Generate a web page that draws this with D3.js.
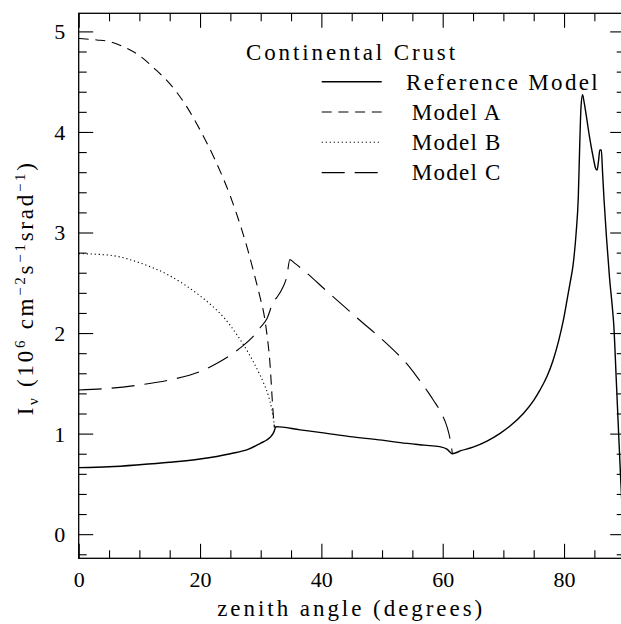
<!DOCTYPE html>
<html>
<head>
<meta charset="utf-8">
<script src="https://cdn.jsdelivr.net/npm/d3@7"></script>
<style>
  html, body { margin: 0; padding: 0; background: #fff; }
  svg { display: block; }
  text { font-family: "Liberation Serif", "DejaVu Serif", serif; fill: #000; }
</style>
</head>
<body>
<svg id="chart" width="621" height="624"></svg>
<script>
// ---------------- data ----------------
const xTickValues = [0, 20, 40, 60, 80];
const yTickValues = [0, 1, 2, 3, 4, 5];
const xTitle = "zenith angle (degrees)";
const legendTitle = "Continental Crust";
const seriesNames = ["Reference Model", "Model A", "Model B", "Model C"];

const refAngle = [0, 5, 10, 15, 20, 25, 28, 30, 31, 31.8, 32.2, 32.5, 36.5, 40, 44.7, 50, 53, 57, 59.5, 60.7,
  61.6, 63, 65, 67.3, 69.4, 71, 73.3, 75, 76, 77.2, 78.2, 79.1, 79.9, 80.5, 81, 81.5, 82, 82.35, 82.6, 82.8,
  83.05, 83.3, 83.7, 84.2, 84.8, 85.2, 85.45, 85.7, 85.9, 86.15, 86.35, 86.6, 87, 87.5, 88, 88.2, 88.6, 89, 89.3, 89.7];
const refValue = [0.662, 0.67, 0.69, 0.715, 0.748, 0.80, 0.845, 0.905, 0.937, 0.98, 1.02, 1.07, 1.037, 1.01, 0.97, 0.935, 0.91, 0.885, 0.87, 0.845,
  0.80, 0.83, 0.865, 0.925, 1.00, 1.07, 1.20, 1.33, 1.43, 1.57, 1.73, 1.92, 2.13, 2.33, 2.5, 2.68, 3.0, 3.35, 3.9, 4.25,
  4.37, 4.3, 4.15, 3.95, 3.75, 3.64, 3.62, 3.72, 3.82, 3.82, 3.6, 3.32, 2.95, 2.55, 2.23, 2.08, 1.55, 1.0, 0.6, 0.1];

const aAngle = [0, 3, 5, 8, 10, 12.5, 15, 17.5, 20, 22.5, 25, 26, 28, 29, 30, 30.5, 31, 31.5, 32, 32.25];
const aValue = [4.93, 4.915, 4.9, 4.83, 4.76, 4.63, 4.48, 4.28, 4.02, 3.72, 3.36, 3.19, 2.80, 2.57, 2.33, 2.2, 2.0, 1.72, 1.25, 1.06];

const bAngle = [0, 5, 10, 15, 20, 22, 24, 26, 28, 29.5, 30.5, 31.3, 31.8, 32.1, 32.3];
const bValue = [2.79, 2.775, 2.70, 2.57, 2.37, 2.27, 2.15, 1.99, 1.80, 1.63, 1.50, 1.37, 1.25, 1.14, 1.07];

const cAngle = [0, 5, 10, 15, 20, 22.5, 25, 27, 28.8, 30, 31, 32.1, 32.6, 33.7, 34.3, 34.8, 35.7, 41.4, 46, 51.3,
  54, 55.7, 57.5, 58.5, 59.8, 60.7, 61.3, 61.6];
const cValue = [1.434, 1.45, 1.484, 1.534, 1.616, 1.69, 1.78, 1.87, 1.97, 2.06, 2.14, 2.31, 2.35, 2.46, 2.56, 2.73, 2.69, 2.39, 2.145, 1.865,
  1.70, 1.57, 1.42, 1.33, 1.20, 1.07, 0.92, 0.80];

// ---------------- layout ----------------
const svg = d3.select("#chart");
const L = 78.7, R = 624.7, T = 13.3, B = 558.3;
const x = d3.scaleLinear().domain([0, 90]).range([L, R]);
const y = d3.scaleLinear().domain([-0.24, 5.18]).range([B, T]);
const FS = 23, FT = 22;

function fitWidth(sel, target) {
  const node = sel.node();
  const n = node.textContent.length;
  let ls = 0;
  for (let k = 0; k < 3; k++) {
    sel.attr("letter-spacing", ls.toFixed(3));
    const w = node.getBBox().width;
    ls += (target - w) / n;
  }
  sel.attr("letter-spacing", ls.toFixed(3));
}

svg.append("defs").append("clipPath").attr("id", "clip")
  .append("rect").attr("x", L).attr("y", T).attr("width", R - L).attr("height", B - T);

const xMinor = d3.range(0, 91, 5).filter(v => v % 20 !== 0);
const yMinor = d3.range(-0.2, 5.19, 0.2).map(v => +v.toFixed(1)).filter(v => Math.abs(v - Math.round(v)) > 1e-6);

const MAJ = 14.5, MIN = 8;
function styleAxis(g) {
  g.select(".domain").remove();
  g.selectAll(".tick line").attr("stroke", "#000").attr("stroke-width", 1.1);
}
// bottom
svg.append("g").attr("transform", `translate(0,${B})`)
  .call(d3.axisBottom(x).tickValues(xTickValues).tickSize(-MAJ).tickFormat(d3.format("d")))
  .call(styleAxis)
  .call(g => g.selectAll("text").attr("y", 28.7).attr("dy", null)
      .attr("font-size", FT).attr("font-family", null).attr("fill", "#000"));
svg.append("g").attr("transform", `translate(0,${B})`)
  .call(d3.axisBottom(x).tickValues(xMinor).tickSize(-MIN).tickFormat(""))
  .call(styleAxis);
// top
svg.append("g").attr("transform", `translate(0,${T})`)
  .call(d3.axisTop(x).tickValues(xTickValues).tickSize(-MAJ).tickFormat(""))
  .call(styleAxis);
svg.append("g").attr("transform", `translate(0,${T})`)
  .call(d3.axisTop(x).tickValues(xMinor).tickSize(-MIN).tickFormat(""))
  .call(styleAxis);
// left
svg.append("g").attr("transform", `translate(${L},0)`)
  .call(d3.axisLeft(y).tickValues(yTickValues).tickSize(-MAJ).tickPadding(13.5).tickFormat(d3.format("d")))
  .call(styleAxis)
  .call(g => g.selectAll("text").attr("dy", "0.34em")
      .attr("font-size", FT).attr("font-family", null).attr("fill", "#000"));
svg.append("g").attr("transform", `translate(${L},0)`)
  .call(d3.axisLeft(y).tickValues(yMinor).tickSize(-MIN).tickFormat(""))
  .call(styleAxis);
// right
svg.append("g").attr("transform", `translate(${R},0)`)
  .call(d3.axisRight(y).tickValues(yTickValues).tickSize(-MAJ).tickFormat(""))
  .call(styleAxis);
svg.append("g").attr("transform", `translate(${R},0)`)
  .call(d3.axisRight(y).tickValues(yMinor).tickSize(-MIN).tickFormat(""))
  .call(styleAxis);

// frame
svg.append("rect").attr("x", L).attr("y", T).attr("width", R - L).attr("height", B - T)
  .attr("fill", "none").attr("stroke", "#000").attr("stroke-width", 1.3);

// curves
const series = [
  { name: seriesNames[0], ang: refAngle, val: refValue, dash: null, w: 1.4 },
  { name: seriesNames[1], ang: aAngle, val: aValue, dash: "10,6.7", w: 1.1 },
  { name: seriesNames[2], ang: bAngle, val: bValue, dash: "1.2,2.8", w: 1.1 },
  { name: seriesNames[3], ang: cAngle, val: cValue, dash: "23,10", w: 1.1 }
];
const line = d3.line().x(d => x(d[0])).y(d => y(d[1])).curve(d3.curveMonotoneX);
const plot = svg.append("g").attr("clip-path", "url(#clip)");
series.slice().reverse().forEach(s => {
  plot.append("path")
    .datum(s.ang.map((a, i) => [a, s.val[i]]))
    .attr("d", line)
    .attr("fill", "none").attr("stroke", "#000")
    .attr("stroke-width", s.w)
    .attr("stroke-dasharray", s.dash);
});

// legend
const lg = svg.append("g");
const t0 = lg.append("text").attr("x", 246).attr("y", 60).attr("font-size", FS).text(legendTitle);
fitWidth(t0, 212);
const legendLineEnds = [381.7, 381.7, 380, 378];
const legendTextX = [406, 411.7, 411.7, 411.7];
const legendTextW = [194, 90, 90, 90];
series.forEach((s, i) => {
  const ly = 81.7 + i * 30.3;
  lg.append("line").attr("x1", 321.7).attr("x2", legendLineEnds[i]).attr("y1", ly).attr("y2", ly)
    .attr("stroke", "#000").attr("stroke-width", s.w).attr("stroke-dasharray", s.dash);
  const t = lg.append("text").attr("x", legendTextX[i]).attr("y", 90 + i * 30)
    .attr("font-size", FS).text(s.name);
  fitWidth(t, legendTextW[i]);
});

// x title
const xt = svg.append("text").attr("x", (L + R) / 2 - 0.5).attr("y", 616)
  .attr("text-anchor", "middle").attr("font-size", FS).text(xTitle);
fitWidth(xt, 268);

// y title
const yt = svg.append("text").attr("transform", `translate(33,${(T + B) / 2 + 2}) rotate(-90)`)
  .attr("text-anchor", "middle").attr("font-size", FS);
yt.append("tspan").text("I");
yt.append("tspan").attr("font-size", 15).attr("dy", 5).text("ν");
yt.append("tspan").attr("dy", -5).text(" (10");
yt.append("tspan").attr("font-size", 15).attr("dy", -8).text("6");
yt.append("tspan").attr("dy", 8).text(" cm");
yt.append("tspan").attr("font-size", 15).attr("dy", -8).text("−2");
yt.append("tspan").attr("dy", 8).text("s");
yt.append("tspan").attr("font-size", 15).attr("dy", -8).text("−1");
yt.append("tspan").attr("dy", 8).text("srad");
yt.append("tspan").attr("font-size", 15).attr("dy", -8).text("−1");
yt.append("tspan").attr("dy", 8).text(")");
fitWidth(yt, 255);
</script>
</body>
</html>
